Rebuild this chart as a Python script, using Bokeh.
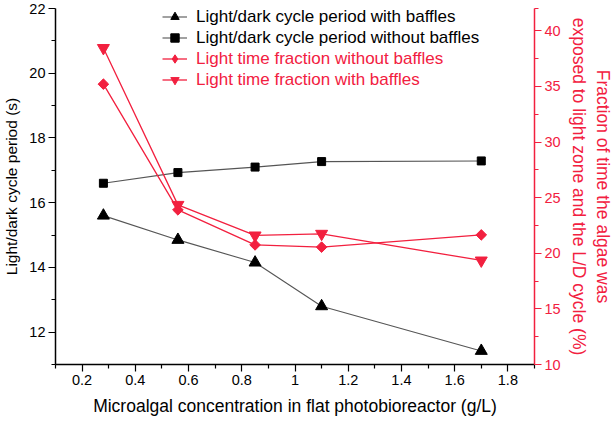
import math
from bokeh.plotting import figure
from bokeh.models import Range1d, LinearAxis, Legend, LegendItem, FixedTicker
from bokeh.embed import file_html
from bokeh.resources import INLINE

# ---- data ----
conc = [0.28, 0.56, 0.85, 1.1, 1.7]
ld_with_baffles = [15.6, 14.85, 14.15, 12.8, 11.42]
ld_without_baffles = [16.6, 16.93, 17.1, 17.27, 17.29]
frac_without_baffles = [35.2, 23.9, 20.75, 20.55, 21.65]
frac_with_baffles = [38.45, 24.35, 21.6, 21.75, 19.35]

x_ticks = [0.2, 0.4, 0.6, 0.8, 1.0, 1.2, 1.4, 1.6, 1.8]
x_minor = [0.1, 0.3, 0.5, 0.7, 0.9, 1.1, 1.3, 1.5, 1.7, 1.9]
left_ticks = [12, 14, 16, 18, 20, 22]
left_minor = [11, 13, 15, 17, 19, 21]
right_ticks = [10, 15, 20, 25, 30, 35, 40]
right_minor = [12.5, 17.5, 22.5, 27.5, 32.5, 37.5, 42]

labels = [
    "Light/dark cycle period with baffles",
    "Light/dark cycle period without baffles",
    "Light time fraction without baffles",
    "Light time fraction with baffles",
]

RED = "#f2203f"
GRAY = "#555555"
FONT = "Liberation Sans"

p = figure(frame_width=479, frame_height=356, output_backend="svg",
           toolbar_location=None, x_range=Range1d(0.1, 1.9),
           y_range=Range1d(11, 22), min_border_top=8, min_border_left=2,
           min_border_right=2, min_border_bottom=4)
p.extra_y_ranges = {"frac": Range1d(10, 42)}
p.grid.visible = False
p.outline_line_color = None
p.background_fill_color = "white"
p.border_fill_color = "white"


def style_axis(ax, color, label_size):
    ax.axis_line_color = color
    ax.axis_line_width = 1.5
    ax.major_tick_line_color = color
    ax.minor_tick_line_color = color
    ax.major_tick_line_width = 1.2
    ax.minor_tick_line_width = 1.2
    ax.major_tick_out = 7
    ax.major_tick_in = 0
    ax.minor_tick_out = 4
    ax.minor_tick_in = 0
    ax.major_label_text_color = color
    ax.major_label_text_font = FONT
    ax.major_label_text_font_size = "14.5px"
    ax.axis_label_text_color = color
    ax.axis_label_text_font = FONT
    ax.axis_label_text_font_size = label_size
    ax.axis_label_text_font_style = "normal"
    ax.major_label_standoff = 3
    ax.axis_label_standoff = 6


p.xaxis.ticker = FixedTicker(ticks=x_ticks, minor_ticks=x_minor)
p.xaxis.axis_label = "Microalgal concentration in flat photobioreactor (g/L)"
style_axis(p.xaxis[0], "black", "17.5px")
p.xaxis.axis_label_standoff = 8
p.yaxis.ticker = FixedTicker(ticks=left_ticks, minor_ticks=left_minor)
p.yaxis.axis_label = "Light/dark cycle period (s)"
style_axis(p.yaxis[0], "black", "15.5px")

rax = LinearAxis(y_range_name="frac",
                 ticker=FixedTicker(ticks=right_ticks, minor_ticks=right_minor),
                 axis_label="Fraction of time the algae was\nexposed to light zone and the L/D cycle (%)")
style_axis(rax, RED, "17.5px")
rax.axis_label_standoff = 5
p.add_layout(rax, "right")

l1 = p.line(conc, ld_with_baffles, line_color=GRAY, line_width=1.1)
s1 = p.scatter(conc, ld_with_baffles, marker="triangle", size=12, color="black")
l2 = p.line(conc, ld_without_baffles, line_color=GRAY, line_width=1.1)
s2 = p.scatter(conc, ld_without_baffles, marker="square", size=8, color="black")
l3 = p.line(conc, frac_without_baffles, line_color=RED, line_width=1.3, y_range_name="frac")
# diamond shape used by the legend (hidden under the rotated squares in the plot)
d3 = p.scatter(conc, frac_without_baffles, marker="diamond", size=9,
               color=RED, y_range_name="frac")
s3 = p.scatter(conc, frac_without_baffles, marker="square", angle=math.pi / 4, size=7.5,
               color=RED, y_range_name="frac")
l4 = p.line(conc, frac_with_baffles, line_color=RED, line_width=1.3, y_range_name="frac")
s4 = p.scatter(conc, frac_with_baffles, marker="inverted_triangle", size=12,
               color=RED, y_range_name="frac")


def make_legend(items, color, loc):
    lg = Legend(items=items, location=loc, label_text_color=color,
                label_text_font=FONT, label_text_font_size="17px",
                glyph_width=25, glyph_height=21, label_height=21,
                label_standoff=9, spacing=0, padding=0, margin=0,
                border_line_color=None, background_fill_alpha=0)
    return lg


leg1 = make_legend([LegendItem(label=labels[0], renderers=[l1, s1]),
                    LegendItem(label=labels[1], renderers=[l2, s2])], "black", (107, 316))
leg2 = make_legend([LegendItem(label=labels[2], renderers=[l3, d3]),
                    LegendItem(label=labels[3], renderers=[l4, s4])], RED, (107, 274))
p.add_layout(leg1)
p.add_layout(leg2)

open("out.html", "w").write(file_html(p, INLINE))
